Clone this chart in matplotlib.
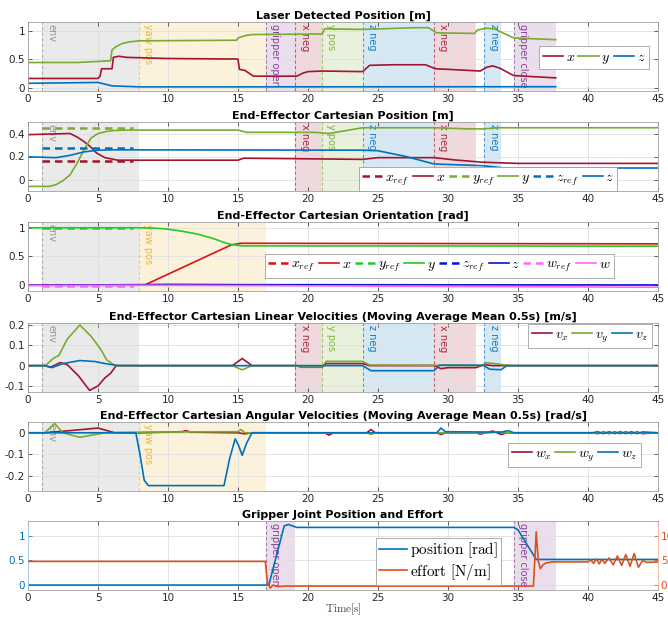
import matplotlib
matplotlib.use("Agg")
import matplotlib.pyplot as plt

plt.rcParams.update({
    "font.family": "DejaVu Sans",
    "mathtext.fontset": "cm",
    "axes.edgecolor": "#262626",
    "axes.linewidth": 0.6,
    "xtick.direction": "in", "ytick.direction": "in",
    "xtick.top": True, "ytick.right": True,
    "xtick.major.size": 3, "ytick.major.size": 3,
    "xtick.major.width": 0.5, "ytick.major.width": 0.5,
    "xtick.color": "#262626", "ytick.color": "#262626",
    "xtick.labelsize": 7.5, "ytick.labelsize": 7.5,
})

RED, GRN, BLU = "#A2142F", "#77AC30", "#0072BD"
ORG, YEL, PUR, GRY = "#D95319", "#EDB120", "#7E2F8E", "#808080"

# experiment phases
phase_start = [1.0, 7.9, 17.0, 19.1, 21.0, 23.9, 29.0, 32.6, 34.7]
phase_end = [7.9, 17.0, 19.1, 21.0, 23.9, 29.0, 32.0, 33.8, 37.7]
phase_label = ["env", "yaw pos", "gripper open", "x neg", "y pos", "z neg", "x neg", "z neg", "gripper close"]
phase_color = [GRY, YEL, PUR, RED, GRN, BLU, RED, BLU, PUR]

# laser detected position
las_t_x = [0, 5.0, 5.15, 5.25, 6.0, 6.1, 6.5, 7.0, 10, 15.0, 15.1, 15.5, 16.1, 19.2, 19.6, 20.0, 21.0, 23.9, 24.4, 26.0, 28.4, 29.1, 30.0, 32.3, 32.8, 33.2, 33.7, 34.7, 37.7]
las_x = [0.16, 0.16, 0.2, 0.33, 0.33, 0.53, 0.55, 0.53, 0.51, 0.50, 0.32, 0.30, 0.20, 0.20, 0.25, 0.28, 0.29, 0.28, 0.39, 0.40, 0.40, 0.33, 0.32, 0.29, 0.36, 0.38, 0.34, 0.21, 0.17]
las_t_y = [0, 3.5, 5.9, 6.0, 6.3, 6.7, 7.2, 8.0, 14.9, 15.0, 15.5, 16.0, 21.0, 21.2, 23.9, 27.6, 28.6, 29.2, 31.9, 32.1, 32.7, 33.3, 34.0, 34.7, 37.7]
las_y = [0.44, 0.44, 0.47, 0.66, 0.72, 0.77, 0.80, 0.82, 0.83, 0.87, 0.91, 0.93, 0.94, 1.03, 1.02, 1.05, 1.05, 0.96, 0.95, 1.01, 1.04, 1.03, 0.95, 0.87, 0.84]
las_t_z = [0, 5.0, 5.5, 6.0, 8.0, 37.7]
las_z = [0.075, 0.09, 0.06, 0.03, 0.012, 0.015]

# end-effector position
pos_t_x = [0, 3.0, 3.5, 4.0, 4.5, 4.9, 5.5, 6.4, 15.0, 15.4, 20.0, 23.9, 25.0, 29.0, 30.5, 32.5, 35.0, 45]
pos_x = [0.39, 0.40, 0.37, 0.33, 0.28, 0.23, 0.19, 0.168, 0.168, 0.185, 0.18, 0.175, 0.19, 0.19, 0.17, 0.15, 0.14, 0.14]
pos_t_y = [0, 1.5, 2.0, 2.5, 3.0, 3.5, 4.0, 4.5, 5.0, 5.5, 6.0, 7.0, 15.0, 15.6, 20.5, 21.5, 23.9, 29.0, 31.5, 32.5, 33.5, 45]
pos_y = [-0.06, -0.06, -0.045, -0.01, 0.04, 0.14, 0.26, 0.36, 0.40, 0.415, 0.425, 0.43, 0.43, 0.41, 0.41, 0.40, 0.45, 0.45, 0.44, 0.44, 0.45, 0.45]
pos_t_z = [0, 2.0, 3.0, 4.0, 5.0, 6.0, 23.9, 25.0, 27.0, 29.0, 32.5, 34.0, 45]
pos_z = [0.197, 0.19, 0.21, 0.24, 0.255, 0.258, 0.255, 0.25, 0.20, 0.135, 0.12, 0.10, 0.10]
ref_t = [1.0, 7.5]
pos_x_ref = [0.165, 0.165]
pos_y_ref = [0.445, 0.445]
pos_z_ref = [0.275, 0.275]

# end-effector orientation (quaternion)
ori_t_x = [0, 8.3, 14.5, 15.2, 45]
ori_x = [0.0, 0.0, 0.70, 0.73, 0.72]
ori_t_y = [0, 8.0, 9.0, 10.0, 11.0, 12.0, 13.0, 13.5, 14.0, 14.5, 15.3, 45]
ori_y = [1.0, 1.0, 0.995, 0.975, 0.94, 0.895, 0.83, 0.79, 0.745, 0.71, 0.685, 0.68]
ori_t_z = [0, 8.0, 10.0, 15.0, 45]
ori_z = [0.0, 0.01, 0.015, 0.01, 0.005]
ori_t_w = [0, 8.0, 20.0, 30.0, 45]
ori_w = [-0.005, 0.0, -0.01, -0.02, -0.035]
ori_x_ref = [0.0, 0.0]
ori_y_ref = [1.0, 1.0]
ori_z_ref = [0.0, 0.0]
ori_w_ref = [-0.01, -0.01]

# linear velocities
vel_t_x = [0, 1.2, 1.6, 2.3, 2.8, 3.6, 4.4, 5.0, 5.5, 5.9, 6.3, 14.6, 15.3, 16.0, 19.2, 19.5, 21.0, 21.3, 23.9, 24.4, 29.0, 29.5, 30.0, 32.0, 32.6, 33.2, 34.0, 45]
vel_x = [0, 0, -0.008, 0.015, 0.005, -0.05, -0.122, -0.1, -0.06, -0.038, 0, 0, 0.035, 0, 0, -0.008, -0.008, 0.01, 0.01, 0.0, 0.0, -0.015, -0.01, -0.01, 0.005, 0.0, 0.0, 0.0]
vel_t_y = [0, 1.24, 1.8, 2.2, 2.8, 3.7, 4.5, 5.2, 5.6, 6.2, 14.6, 15.3, 16.0, 19.2, 19.5, 21.0, 21.3, 23.9, 24.4, 29.0, 32.4, 32.7, 33.3, 34.5, 45]
vel_y = [0, 0, 0.035, 0.05, 0.13, 0.2, 0.145, 0.08, 0.03, 0, 0, -0.021, 0, 0, -0.006, -0.006, 0.021, 0.021, 0.003, 0.002, 0.0, 0.015, 0.01, 0.0, 0.0]
vel_t_z = [0, 1.2, 1.7, 2.5, 3.7, 4.8, 5.5, 6.5, 23.9, 24.5, 29.0, 29.4, 32.5, 33.0, 33.8, 34.2, 45]
vel_z = [0, 0, -0.01, 0.01, 0.025, 0.02, 0.01, 0, 0, -0.025, -0.025, 0.002, 0.002, -0.018, -0.02, 0, 0]

# angular velocities
ang_t_x = [0, 1.2, 3.0, 5.0, 6.2, 8.0, 11.0, 11.3, 11.6, 15.0, 15.5, 16.0, 21.2, 21.5, 21.8, 24.2, 24.5, 24.8, 29.2, 29.5, 29.8, 32.0, 32.3, 32.7, 33.2, 33.5, 33.8, 34.2, 40.3, 40.7, 41.1, 41.5, 41.9, 42.3, 42.7, 43.1, 43.5, 43.9, 45]
ang_x = [0, 0, 0.01, 0.022, 0.0, 0.0, 0.005, 0.01, 0.003, 0.0, -0.005, 0.0, 0.0, -0.011, 0.0, 0.0, 0.015, 0.0, 0.0, -0.008, 0.0, 0.0, -0.006, 0.0, 0.008, 0.0, -0.008, 0.0, 0.0, -0.004, 0.004, -0.004, 0.004, -0.004, 0.004, -0.004, 0.004, -0.004, 0.0]
ang_t_y = [0, 1.2, 1.9, 2.5, 3.7, 5.5, 8.0, 15.0, 15.2, 15.5, 24.2, 24.5, 24.8, 33.0, 33.5, 34.0, 45]
ang_y = [0, 0, 0.043, 0.0, -0.021, 0.0, 0.003, 0.005, 0.015, 0.0, 0.0, -0.008, 0.0, 0.0, 0.004, 0.0, 0.0]
ang_t_z = [0, 7.7, 8.0, 8.3, 8.6, 14.0, 14.4, 14.8, 15.05, 15.3, 15.6, 16.0, 29.2, 29.5, 29.8, 33.8, 34.3, 34.7, 40.3, 40.7, 41.1, 41.5, 41.9, 42.3, 42.7, 43.1, 43.5, 43.9, 45]
ang_z = [0, 0, -0.1, -0.22, -0.245, -0.245, -0.12, -0.028, -0.06, -0.105, -0.05, 0, 0, 0.022, 0.005, 0.003, 0.01, 0, 0, 0.005, -0.004, 0.005, -0.004, 0.005, -0.004, 0.005, -0.004, 0.004, 0]

# gripper joint
grip_t_pos = [0, 17.2, 18.3, 18.6, 19.2, 34.7, 35.0, 36.3, 45]
grip_pos = [0.0, 0.0, 1.2, 1.23, 1.17, 1.17, 1.12, 0.52, 0.52]
grip_t_eff = [0, 16.95, 17.1, 17.3, 17.5, 17.8, 18.5, 36.1, 36.2, 36.3, 36.45, 36.6, 36.75, 37.0, 37.5, 40.0, 40.2, 40.4, 40.6, 40.8, 41.0, 41.2, 41.5, 41.8, 42.1, 42.4, 42.7, 43.0, 43.3, 43.6, 43.9, 44.2, 45]
grip_eff = [4.8, 4.8, 0.5, -0.6, 0.0, -0.3, -0.2, -0.2, 5.0, 10.8, 4.8, 3.3, 4.0, 4.5, 4.7, 4.7, 5.1, 4.4, 5.3, 4.3, 5.2, 4.4, 5.5, 4.1, 5.9, 4.0, 6.2, 3.8, 6.4, 3.6, 5.0, 4.6, 4.7]

fig = plt.figure(figsize=(6.68, 6.19), dpi=100)
L, W, H = 28 / 668, 630 / 668, 69 / 619
tops = [22, 122, 222, 323, 422, 521]
axes = [fig.add_axes([L, 1 - (t + 69) / 619, W, H]) for t in tops]


def style(ax, title, ylim, yticks):
    ax.set_xlim(0, 45)
    ax.set_ylim(*ylim)
    ax.set_yticks(yticks)
    ax.set_yticklabels([f"{v:g}" for v in yticks])
    ax.set_xticks(range(0, 46, 5))
    ax.grid(True, color="#DFDFDF", lw=0.6)
    ax.set_axisbelow(True)
    ax.set_title(title, fontsize=8, fontweight="bold", pad=2.5)
    ax.tick_params(pad=2)
    for s in ax.spines.values():
        s.set_color("#A0A0A0")


def phases(ax, idx):
    y0, y1 = ax.get_ylim()
    for i in idx:
        c = phase_color[i]
        ax.axvspan(phase_start[i], phase_end[i], color=c, alpha=0.16, lw=0, zorder=0.5)
        ax.axvline(phase_start[i], color=c, lw=0.8, ls=(0, (3, 2)), alpha=0.6, zorder=0.6)
        ax.text(phase_start[i] + 0.3, y1 - (y1 - y0) * 0.03, phase_label[i], rotation=270,
                ha="left", va="top", fontsize=7, color=c, alpha=0.9 if c != GRY else 0.8, zorder=0.7)


def legend(ax, **kw):
    leg = ax.legend(fancybox=False, edgecolor="#A0A0A0", framealpha=1, borderpad=0.25,
                    handletextpad=0.2, columnspacing=0.25, borderaxespad=0,
                    fontsize=10, handlelength=1.45, **kw)
    leg.get_frame().set_linewidth(0.6)
    return leg


LW = 1.2
all_idx = list(range(9))
motion_idx = [0, 3, 4, 5, 6, 7]

# 1 laser detected position
ax = axes[0]
style(ax, "Laser Detected Position [m]", (-0.06, 1.15), [0, 0.5, 1])
phases(ax, all_idx)
ax.plot(las_t_x, las_x, color=RED, lw=LW, label="$x$")
ax.plot(las_t_y, las_y, color=GRN, lw=LW, label="$y$")
ax.plot(las_t_z, las_z, color=BLU, lw=LW, label="$z$")
legend(ax, ncol=3, loc="center right", bbox_to_anchor=(0.985, 0.48))

# 2 end-effector position
ax = axes[1]
style(ax, "End-Effector Cartesian Position [m]", (-0.1, 0.5), [0, 0.2, 0.4])
phases(ax, motion_idx)
ax.plot(ref_t, pos_x_ref, color=RED, lw=1.8, ls=(0, (3, 2)), label="$x_{ref}$")
ax.plot(pos_t_x, pos_x, color=RED, lw=LW, label="$x$")
ax.plot(ref_t, pos_y_ref, color=GRN, lw=1.8, ls=(0, (3, 2)), label="$y_{ref}$")
ax.plot(pos_t_y, pos_y, color=GRN, lw=LW, label="$y$")
ax.plot(ref_t, pos_z_ref, color=BLU, lw=1.8, ls=(0, (3, 2)), label="$z_{ref}$")
ax.plot(pos_t_z, pos_z, color=BLU, lw=LW, label="$z$")
legend(ax, ncol=6, loc="lower left", bbox_to_anchor=(331 / 630, 0.0))

# 3 end-effector orientation
ax = axes[2]
style(ax, "End-Effector Cartesian Orientation [rad]", (-0.1, 1.1), [0, 0.5, 1])
phases(ax, [0, 1])
oR, oG, oB, oM = "#DD1111", "#22CC22", "#1111CC", "#FF66FF"
ax.plot(ref_t, ori_x_ref, color=oR, lw=1.8, ls=(0, (3, 2)), label="$x_{ref}$")
ax.plot(ori_t_x, ori_x, color=oR, lw=LW, label="$x$")
ax.plot(ref_t, ori_y_ref, color=oG, lw=1.8, ls=(0, (3, 2)), label="$y_{ref}$")
ax.plot(ori_t_y, ori_y, color=oG, lw=LW, label="$y$")
ax.plot(ref_t, ori_z_ref, color=oB, lw=1.8, ls=(0, (3, 2)), label="$z_{ref}$")
ax.plot(ori_t_z, ori_z, color=oB, lw=LW, label="$z$")
ax.plot(ref_t, ori_w_ref, color=oM, lw=1.8, ls=(0, (3, 2)), label="$w_{ref}$")
ax.plot(ori_t_w, ori_w, color=oM, lw=LW, label="$w$")
legend(ax, ncol=8, loc="lower left", bbox_to_anchor=(237 / 630, 0.19))

# 4 linear velocities
ax = axes[3]
style(ax, "End-Effector Cartesian Linear Velocities (Moving Average Mean 0.5s) [m/s]", (-0.13, 0.21), [-0.1, 0, 0.1, 0.2])
phases(ax, motion_idx)
ax.plot(vel_t_x, vel_x, color=RED, lw=LW, label="$v_x$")
ax.plot(vel_t_y, vel_y, color=GRN, lw=LW, label="$v_y$")
ax.plot(vel_t_z, vel_z, color=BLU, lw=LW, label="$v_z$")
legend(ax, ncol=3, loc="upper right", bbox_to_anchor=(0.99, 0.99))

# 5 angular velocities
ax = axes[4]
style(ax, "End-Effector Cartesian Angular Velocities (Moving Average Mean 0.5s) [rad/s]", (-0.27, 0.05), [-0.2, -0.1, 0])
phases(ax, [0, 1])
ax.plot(ang_t_x, ang_x, color=RED, lw=LW, label="$w_x$")
ax.plot(ang_t_y, ang_y, color=GRN, lw=LW, label="$w_y$")
ax.plot(ang_t_z, ang_z, color=BLU, lw=LW, label="$w_z$")
legend(ax, ncol=3, loc="upper right", bbox_to_anchor=(0.973, 0.70))

# 6 gripper
ax = axes[5]
style(ax, "Gripper Joint Position and Effort", (-0.1, 1.3), [0, 0.5, 1])
phases(ax, [2, 8])
ax.tick_params(axis="y", right=False, colors=BLU)
ax.spines["left"].set_color("#9CC3E4")
ax.spines["right"].set_color("#F0B49A")
l1, = ax.plot(grip_t_pos, grip_pos, color=BLU, lw=LW)
ax2 = ax.twinx()
ax2.set_ylim(-1, 13)
ax2.set_yticks([0, 5, 10])
ax2.tick_params(axis="y", direction="in", colors=ORG, labelsize=7.5, pad=2)
for s in ax2.spines.values():
    s.set_visible(False)
l2, = ax2.plot(grip_t_eff, grip_eff, color=ORG, lw=LW)
leg = ax2.legend([l1, l2], [r"$\mathrm{position\ [rad]}$", r"$\mathrm{effort\ [N/m]}$"],
                 fancybox=False, edgecolor="#A0A0A0", framealpha=1, fontsize=11,
                 handlelength=1.8, handletextpad=0.2, borderpad=0.2, labelspacing=0.1,
                 loc="upper left", bbox_to_anchor=(348 / 630, 0.76), borderaxespad=0)
leg.get_frame().set_linewidth(0.6)
ax.set_xlabel(r"$\mathrm{Time[s]}$", fontsize=8, color="#404040", labelpad=-1)

fig.savefig("out.png", dpi=100, facecolor="white")
